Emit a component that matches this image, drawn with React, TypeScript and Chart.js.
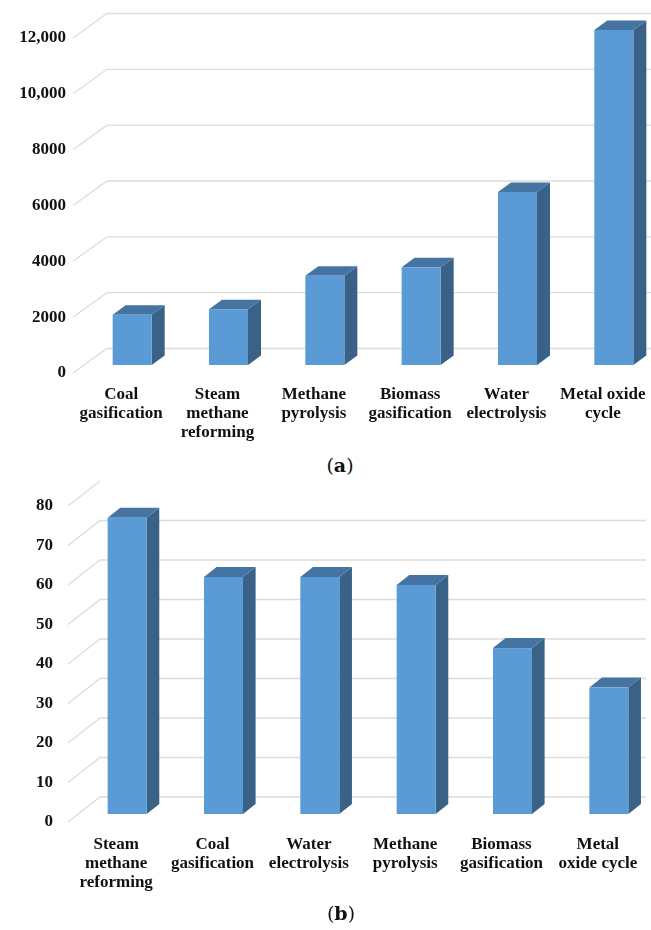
import React, { useEffect, useRef } from 'react';
import { Chart, registerables } from 'chart.js';

Chart.register(...registerables);

// Panel (a)
const categoriesA: string[][] = [
  ['Coal', 'gasification'],
  ['Steam', 'methane', 'reforming'],
  ['Methane', 'pyrolysis'],
  ['Biomass', 'gasification'],
  ['Water', 'electrolysis'],
  ['Metal oxide', 'cycle'],
];
const valuesA: number[] = [1800, 2000, 3200, 3500, 6200, 12000];
const yTickLabelsA: string[] = ['0', '2000', '4000', '6000', '8000', '10,000', '12,000'];

// Panel (b)
const categoriesB: string[][] = [
  ['Steam', 'methane', 'reforming'],
  ['Coal', 'gasification'],
  ['Water', 'electrolysis'],
  ['Methane', 'pyrolysis'],
  ['Biomass', 'gasification'],
  ['Metal', 'oxide cycle'],
];
const valuesB: number[] = [75, 60, 60, 58, 42, 32];
const yTickLabelsB: string[] = ['0', '10', '20', '30', '40', '50', '60', '70', '80'];

const FRONT = '#5b9bd5';
const TOP = '#4574a2';
const SIDE = '#3a6186';
const GRID = '#dcdcdc';
const FONT_FAMILY = '"Liberation Serif", "Times New Roman", serif';

// Draws the slanted floor/wall grid and the extruded bar boxes.
const box3d = {
  id: 'box3d',
  beforeDatasetsDraw(chart: any, _args: any, opts: any) {
    const { ctx, chartArea } = chart;
    const y = chart.scales.y;
    ctx.save();
    ctx.strokeStyle = GRID;
    ctx.lineWidth = 1.3;
    y.ticks.forEach((t: any, i: number) => {
      const py = y.getPixelForValue(t.value);
      ctx.beginPath();
      ctx.moveTo(chartArea.left, py);
      ctx.lineTo(chartArea.left + opts.wallDx, py + opts.wallDy);
      if (!(opts.skipTopWall && i === y.ticks.length - 1)) {
        ctx.lineTo(chartArea.right, py + opts.wallDy);
      }
      ctx.stroke();
    });
    ctx.restore();
  },
  afterDatasetsDraw(chart: any, _args: any, opts: any) {
    const { ctx } = chart;
    const meta = chart.getDatasetMeta(0);
    ctx.save();
    meta.data.forEach((bar: any) => {
      const { x, y, base, width } = bar.getProps(['x', 'y', 'base', 'width'], true);
      const l = x - width / 2 + opts.offX;
      const r = l + width;
      const t = y + opts.offY;
      const b = base + opts.offY;
      const dx = opts.depthX;
      const dy = opts.depthY;

      ctx.fillStyle = SIDE;
      ctx.beginPath();
      ctx.moveTo(r, t);
      ctx.lineTo(r + dx, t + dy);
      ctx.lineTo(r + dx, b + dy);
      ctx.lineTo(r, b);
      ctx.closePath();
      ctx.fill();

      ctx.fillStyle = TOP;
      ctx.beginPath();
      ctx.moveTo(l, t);
      ctx.lineTo(l + dx, t + dy);
      ctx.lineTo(r + dx, t + dy);
      ctx.lineTo(r, t);
      ctx.closePath();
      ctx.fill();

      ctx.fillStyle = FRONT;
      ctx.fillRect(l, t, width, b - t);
    });
    ctx.restore();
  },
};

interface PanelProps {
  categories: string[][];
  values: number[];
  yLabels: string[];
  max: number;
  step: number;
  top: number;
  padTop: number;
  padRight: number;
  axisWidth: number;
  yPad: number;
  axisHeight: number;
  xPad: number;
  plugin: any;
}

function Panel(p: PanelProps) {
  const ref = useRef<HTMLCanvasElement | null>(null);
  useEffect(() => {
    if (!ref.current) return;
    const font = { family: FONT_FAMILY, weight: 'bold' as const, size: 17, lineHeight: 1.12 };
    const chart = new Chart(ref.current, {
      type: 'bar',
      data: {
        labels: p.categories,
        datasets: [
          {
            data: p.values,
            backgroundColor: 'rgba(0,0,0,0)',
            borderWidth: 0,
            categoryPercentage: 1,
            barPercentage: 0.405,
          },
        ],
      },
      options: {
        responsive: false,
        animation: false,
        layout: { padding: { top: p.padTop, right: p.padRight, left: 0, bottom: 0 } },
        plugins: {
          legend: { display: false },
          tooltip: { enabled: false },
          box3d: p.plugin,
        } as any,
        scales: {
          x: {
            offset: true,
            grid: { display: false, drawTicks: false },
            border: { display: false },
            ticks: {
              color: '#111',
              font,
              padding: p.xPad,
              maxRotation: 0,
              autoSkip: false,
            },
            afterFit: (s: any) => {
              s.height = p.axisHeight;
              s.paddingLeft = 0;
              s.paddingRight = 0;
            },
          },
          y: {
            min: 0,
            max: p.max,
            grid: { display: false, drawTicks: false },
            border: { display: false },
            ticks: {
              stepSize: p.step,
              color: '#111',
              font: { ...font, lineHeight: 1.2 },
              padding: p.yPad,
              callback: (_v: any, i: number) => p.yLabels[i],
            },
            afterFit: (s: any) => {
              s.width = p.axisWidth;
            },
          },
        },
      },
      plugins: [box3d],
    });
    return () => chart.destroy();
  }, []);
  return (
    <canvas
      ref={ref}
      width={651}
      height={445}
      style={{ position: 'absolute', left: 0, top: p.top, width: 651, height: 445 }}
    />
  );
}

const captionStyle = (cx: number, top: number): React.CSSProperties => ({
  position: 'absolute',
  left: cx,
  top,
  transform: 'translateX(-50%)',
  fontFamily: '"DejaVu Serif", serif',
  fontSize: 19,
  lineHeight: '20px',
  color: '#111',
  whiteSpace: 'nowrap',
});

export default function App() {
  return (
    <div style={{ position: 'absolute', left: 0, top: 0, width: 651, height: 930, background: '#fff' }}>
      <Panel
        categories={categoriesA}
        values={valuesA}
        yLabels={yTickLabelsA}
        max={12000}
        step={2000}
        top={0}
        padTop={38}
        padRight={0}
        axisWidth={73}
        yPad={7}
        axisHeight={72}
        xPad={12}
        plugin={{ wallDx: 34, wallDy: -24.5, skipTopWall: false, offX: 11, offY: -8, depthX: 13, depthY: -9.5 }}
      />
      <div style={captionStyle(340, 455)}>
        (<b>a</b>)
      </div>
      <Panel
        categories={categoriesB}
        values={valuesB}
        yLabels={yTickLabelsB}
        max={80}
        step={10}
        top={470}
        padTop={36}
        padRight={5}
        axisWidth={68}
        yPad={15}
        axisHeight={93}
        xPad={13}
        plugin={{ wallDx: 32, wallDy: -25, skipTopWall: true, offX: 11, offY: -8, depthX: 12.6, depthY: -10 }}
      />
      <div style={captionStyle(341, 903)}>
        (<b>b</b>)
      </div>
    </div>
  );
}
